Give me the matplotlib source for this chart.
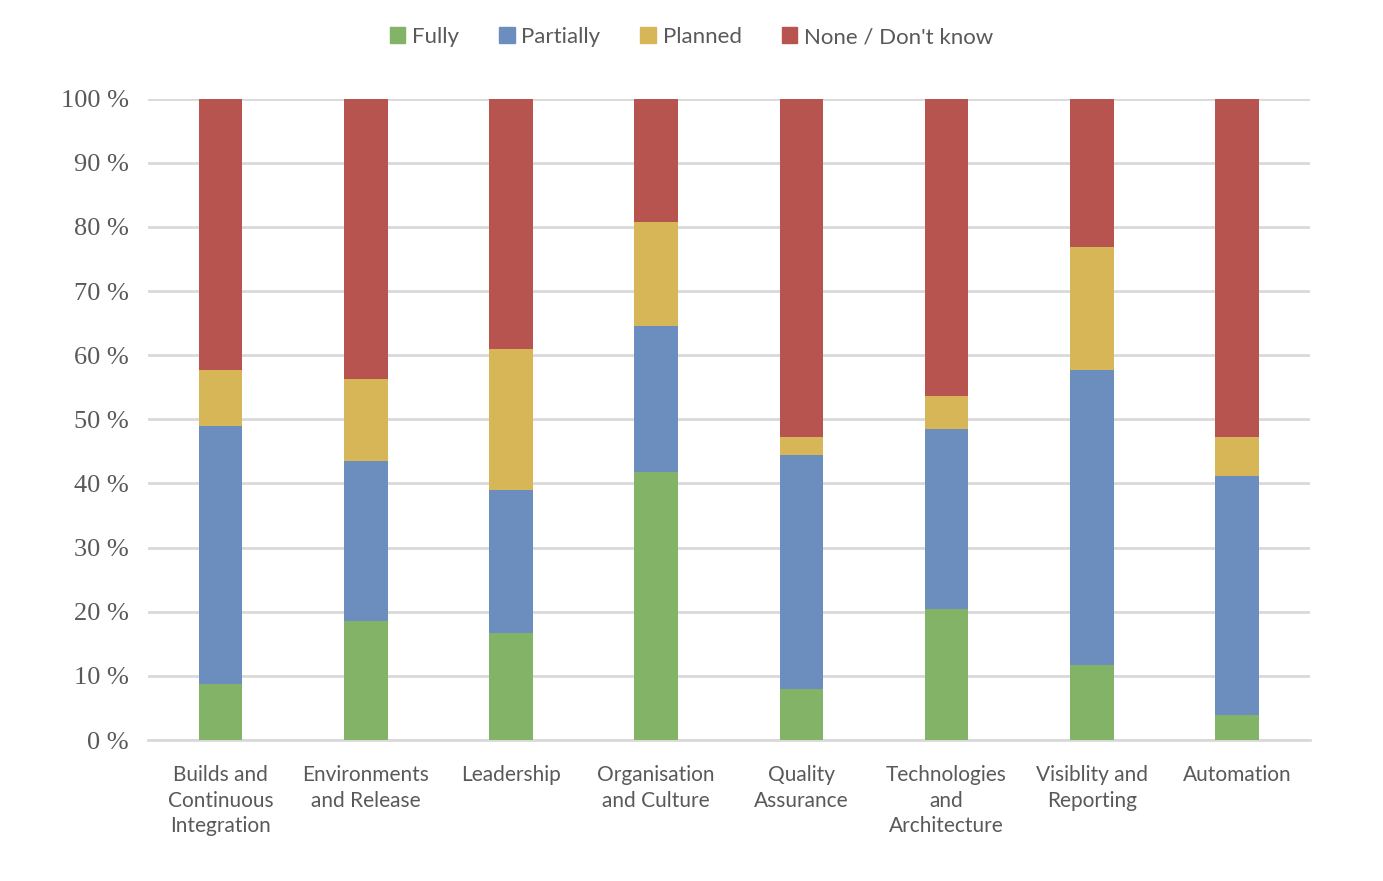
import matplotlib
matplotlib.use('Agg')
import matplotlib.pyplot as plt
from matplotlib.patches import Patch
import numpy as np

categories = ["Builds and\nContinuous\nIntegration", "Environments\nand Release", "Leadership",
              "Organisation\nand Culture", "Quality\nAssurance", "Technologies\nand\nArchitecture",
              "Visiblity and\nReporting", "Automation"]
series = ["Fully", "Partially", "Planned", "None / Don't know"]

fully = [8.7, 18.6, 16.7, 41.8, 8.0, 20.4, 11.7, 3.9]
partially = [40.3, 24.9, 22.3, 22.8, 36.5, 28.1, 46.0, 37.3]
planned = [8.7, 12.8, 22.0, 16.1, 2.8, 5.2, 19.2, 6.1]
none_dk = [42.3, 43.7, 39.0, 19.3, 52.7, 46.3, 23.1, 52.7]

colors = ["#82B366", "#6C8EBF", "#D6B656", "#B85450"]

fig = plt.figure(figsize=(13.83, 8.81), dpi=100)
ax = fig.add_axes([0.107, 0.16, 0.84, 0.728])

x = np.arange(len(categories))
bottom = np.zeros(len(categories))
for vals, col in zip([fully, partially, planned, none_dk], colors):
    ax.bar(x, vals, 0.30, bottom=bottom, color=col, zorder=3)
    bottom += np.array(vals)

ax.set_xlim(-0.5, len(categories) - 0.5)
ax.set_ylim(0, 100)
ax.set_yticks(range(0, 101, 10))
ax.set_yticklabels([f"{v} %" for v in range(0, 101, 10)], family="Liberation Serif",
                   fontsize=19, color="#595959")
ax.yaxis.grid(True, color="#D9D9D9", linewidth=2, zorder=0)
ax.tick_params(axis='both', length=0)
ax.tick_params(axis='y', pad=14)
ax.set_xticks(x)
ax.set_xticklabels(categories, family="Lato", fontsize=15, color="#595959", linespacing=1.35)
ax.tick_params(axis='x', pad=18)
for s in ["top", "right", "left"]:
    ax.spines[s].set_visible(False)
ax.spines["bottom"].set_color("#D9D9D9")
ax.spines["bottom"].set_linewidth(2)

handles = [Patch(color=c, label=s) for c, s in zip(colors, series)]
fig.legend(handles=handles, loc="center", bbox_to_anchor=(0.5, 0.958), ncol=4, frameon=False,
           prop={"family": "Lato", "size": 16}, labelcolor="#595959",
           handlelength=0.7, handleheight=0.7, handletextpad=0.3, columnspacing=1.8)

fig.savefig("out.png", dpi=100)
